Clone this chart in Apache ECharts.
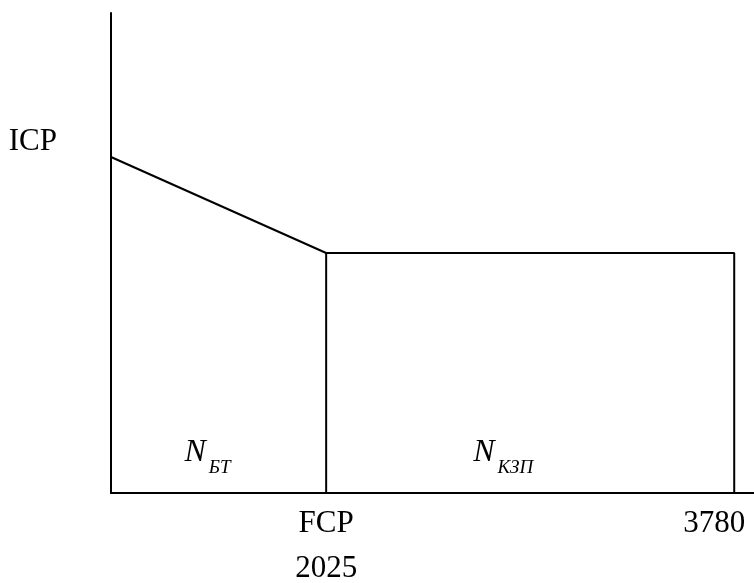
<!DOCTYPE html>
<html>
<head>
<meta charset="utf-8">
<script src="https://cdn.jsdelivr.net/npm/echarts@6/dist/echarts.min.js"></script>
<style>
  html,body{margin:0;padding:0;background:#fff;}
  #chart{width:754px;height:583px;}
</style>
</head>
<body>
<div id="chart"></div>
<script>
  // break points along the x axis (in axis units)
  const xBreaks = [0, 1305, 3780];
  const xTickLabels = ['', 'FCP\n2025', '3780'];
  // cost level at each break point
  const yLevels = [70, 50, 50];
  const yTickLabel = 'ICP';
  // areas under the line: main letter + subscript
  const regionNames = [['N', 'БТ'], ['N', 'КЗП']];

  const font = '"Liberation Serif", "Times New Roman", serif';
  let chart = echarts.init(document.getElementById('chart'));

  let outline = [
    [xBreaks[0], yLevels[0]],
    [xBreaks[1], yLevels[1]],
    [xBreaks[2], yLevels[2]],
    [xBreaks[2], 0]
  ];
  let divider = [[xBreaks[1], yLevels[1]], [xBreaks[1], 0]];

  let regionOffset = [-11, -27];
  let regions = regionNames.map(function (r, i) {
    return {
      value: [(xBreaks[i] + xBreaks[i + 1]) / 2, 0],
      label: {
        offset: [regionOffset[i], -40],
        formatter: '{n|' + r[0] + '}{s|' + r[1] + '}'
      }
    };
  });

  let option = {
    animation: false,
    backgroundColor: '#fff',
    grid: {
      left: 111,
      right: 0,
      top: 13,
      bottom: 90,
      containLabel: false,
      outerBoundsMode: 'none'
    },
    xAxis: {
      type: 'value',
      min: 0,
      max: 3900,
      axisLine: {show: true, lineStyle: {color: '#000', width: 2}},
      axisTick: {show: false},
      splitLine: {show: false},
      axisLabel: {
        customValues: xBreaks.slice(1),
        margin: 8,
        color: '#000',
        fontFamily: font,
        fontSize: 31,
        lineHeight: 45,
        verticalAlign: 'top',
        formatter: function (v) {
          let i = xBreaks.indexOf(v);
          let txt = xTickLabels[i];
          if (i === xBreaks.length - 1) return '{r|' + txt + '}';
          return txt;
        },
        rich: {
          r: {fontFamily: font, fontSize: 31, lineHeight: 45, color: '#000', padding: [0, 40, 0, 0]}
        }
      }
    },
    yAxis: {
      type: 'value',
      min: 0,
      max: 100,
      axisLine: {show: true, lineStyle: {color: '#000', width: 2}},
      axisTick: {show: false},
      splitLine: {show: false},
      axisLabel: {
        customValues: [yLevels[0]],
        margin: 54,
        color: '#000',
        fontFamily: font,
        fontSize: 31,
        lineHeight: 31,
        verticalAlign: 'bottom',
        formatter: function () { return yTickLabel; }
      }
    },
    series: [
      {
        type: 'line',
        data: outline,
        symbol: 'none',
        lineStyle: {color: '#000', width: 2},
        silent: true
      },
      {
        type: 'line',
        data: divider,
        symbol: 'none',
        lineStyle: {color: '#000', width: 2},
        silent: true
      },
      {
        type: 'scatter',
        data: regions,
        symbolSize: 0,
        silent: true,
        itemStyle: {opacity: 1},
        label: {
          show: true,
          position: 'inside',
          align: 'center',
          verticalAlign: 'middle',
          color: '#000',
          opacity: 1,
          textBorderWidth: 0,
          rich: {
            n: {fontFamily: font, fontStyle: 'italic', fontSize: 32, lineHeight: 32, color: '#000', verticalAlign: 'middle'},
            s: {fontFamily: font, fontStyle: 'italic', fontSize: 19, lineHeight: 48, color: '#000', verticalAlign: 'bottom', padding: [0, 0, 0, 3]}
          }
        }
      }
    ]
  };
  chart.setOption(option);
  window.onresize = function () {
    chart.resize();
  };
</script>
</body>
</html>
